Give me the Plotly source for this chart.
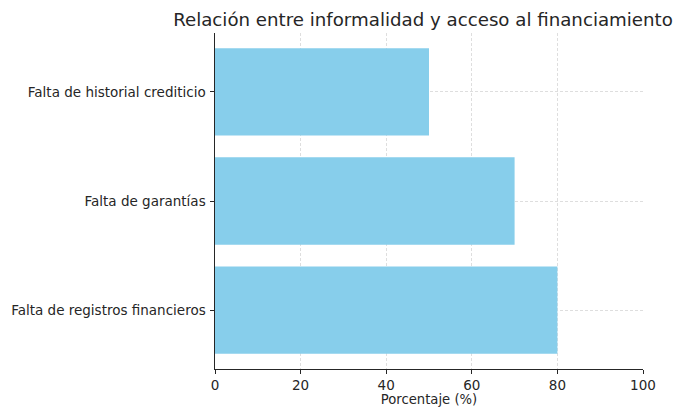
import plotly.graph_objects as go

categories = ["Falta de registros financieros", "Falta de garantías", "Falta de historial crediticio"]
values = [80, 70, 50]
x_ticks = [0, 20, 40, 60, 80, 100]

fig = go.Figure(go.Bar(
    x=values, y=categories, orientation="h",
    marker=dict(color="#87CEEB", line=dict(width=0)),
    width=0.8,
))

font = "DejaVu Sans"
fig.update_layout(
    width=686, height=407,
    margin=dict(l=215, r=43, t=33, b=38),
    paper_bgcolor="white", plot_bgcolor="white",
    font=dict(family=font, size=13.5, color="#262626"),
    showlegend=False,
    title=dict(text="Relación entre informalidad y acceso al financiamiento",
               x=423 / 686, xanchor="center", y=1 - 20 / 407, yanchor="middle",
               font=dict(family=font, size=18.2, color="#262626")),
)
fig.update_xaxes(
    range=[0, 100], tickvals=x_ticks, ticks="outside", ticklen=3.5, tickcolor="#262626",
    showline=True, linecolor="#262626", linewidth=1.2, automargin=False,
    showgrid=True, gridcolor="#dedede", griddash="3px,2px", gridwidth=0.8, zeroline=False,
    ticklabelstandoff=0,
    title=dict(text="Porcentaje (%)", standoff=4, font=dict(family=font, size=13.2)),
)
fig.update_yaxes(
    range=[-0.54, 2.54], ticks="outside", ticklen=3.5, tickcolor="#262626",
    showline=True, linecolor="#262626", linewidth=1.2, automargin=False,
    showgrid=True, gridcolor="#dedede", griddash="3px,2px", gridwidth=0.8, zeroline=False,
    ticklabelstandoff=2,
)
fig.write_html("out.html")
